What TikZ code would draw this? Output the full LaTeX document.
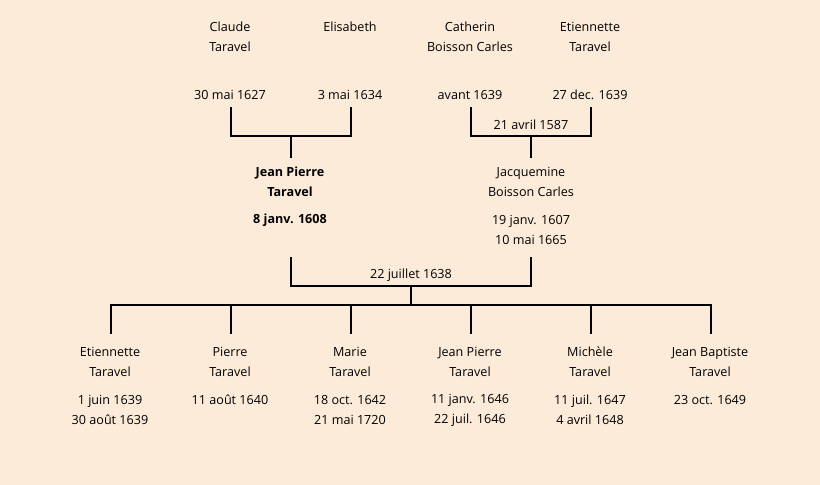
\documentclass[tikz,border=0pt]{standalone}
\usepackage{fontspec}
\setmainfont{Open Sans}
\definecolor{bg}{RGB}{252,235,217}
\begin{document}
\begin{tikzpicture}[x=1pt,y=-1pt,
  txt/.style={inner sep=0pt,align=center,font=\fontsize{12.6}{20}\selectfont},
  btxt/.style={txt,font=\fontsize{12.6}{20}\selectfont\bfseries},
  ln/.style={line width=2pt,line cap=rect}]
\fill[bg] (0,0) rectangle (820,485);
\useasboundingbox (0,0) rectangle (820,485);
% top row
\node[txt] (claude) at (230,37) {Claude\\Taravel};
\node[txt] (elis) at (350,27) {Elisabeth};
\node[txt] (cath) at (470,37) {Catherin\\Boisson Carles};
\node[txt] (etie) at (590,37) {Etiennette\\Taravel};
\node[txt] (dclaude) at (230,95) {30 mai 1627};
\node[txt] (delis) at (350,95) {3 mai 1634};
\node[txt] (dcath) at (470,95) {avant 1639};
\node[txt] (detie) at (590,95) {27 dec. 1639};
\coordinate (a1) at (231,108);
\coordinate (a2) at (351,108);
\coordinate (a3) at (291,136);
\coordinate (a4) at (291,157);
\draw[ln] (a1) |- (a3) -| (a2);
\draw[ln] (a3) -- (a4);
\coordinate (b1) at (471,108);
\coordinate (b2) at (591,108);
\coordinate (b3) at (531,136);
\coordinate (b4) at (531,157);
\draw[ln] (b1) |- (b3) -| (b2);
\draw[ln] (b3) -- (b4);
\node[txt] (m1) at (531,125) {21 avril 1587};
% middle
\node[btxt] (jp) at (290,182) {Jean Pierre\\Taravel};
\node[btxt] (djp) at (290,220) {8 janv. 1608};
\node[txt] (jac) at (531,182) {Jacquemine\\Boisson Carles};
\node[txt] (djac) at (531,230) {19 janv. 1607\\10 mai 1665};
\coordinate (c1) at (291,258);
\coordinate (c2) at (531,258);
\coordinate (c3) at (411,286);
\coordinate (c4) at (411,305);
\draw[ln] (c1) |- (c3) -| (c2);
\draw[ln] (c3) -- (c4);
\node[txt] (m2) at (411,275) {22 juillet 1638};
% children bar
\coordinate (k1) at (111,305);
\coordinate (k6) at (711,305);
\draw[ln] (k1) -- (k6);
\foreach \x in {111,231,351,471,591,711} {
  \draw[ln] (\x,305) -- (\x,333);
}
\node[txt] (e1) at (110,362) {Etiennette\\Taravel};
\node[txt] (d1) at (110,410) {1 juin 1639\\30 août 1639};
\node[txt] (e2) at (230,362) {Pierre\\Taravel};
\node[txt] (d2) at (230,400) {11 août 1640};
\node[txt] (e3) at (350,362) {Marie\\Taravel};
\node[txt] (d3) at (350,410) {18 oct. 1642\\21 mai 1720};
\node[txt] (e4) at (470,362) {Jean Pierre\\Taravel};
\node[txt] (d4) at (470,410) {11 janv. 1646\\22 juil. 1646};
\node[txt] (e5) at (590,362) {Michèle\\Taravel};
\node[txt] (d5) at (590,410) {11 juil. 1647\\4 avril 1648};
\node[txt] (e6) at (710,362) {Jean Baptiste\\Taravel};
\node[txt] (d6) at (710,400) {23 oct. 1649};
\end{tikzpicture}
\end{document}
